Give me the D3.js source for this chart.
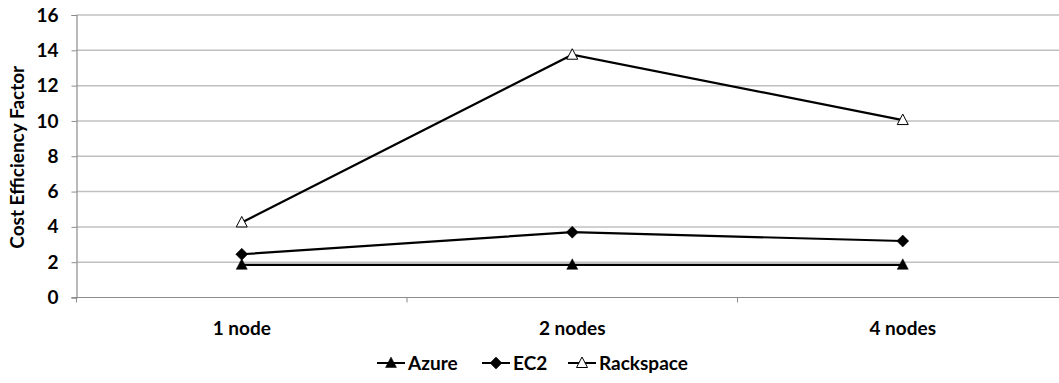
<!DOCTYPE html>
<html><head><meta charset="utf-8">
<script src="https://cdn.jsdelivr.net/npm/d3@7"></script>
<style>body{margin:0;background:#fff}svg{display:block}text{font-family:Lato,"Liberation Sans",Arial,sans-serif;font-weight:bold;fill:#000}</style>
</head><body><svg id="c" width="1059" height="383"></svg>
<script>
const categories = ["1 node", "2 nodes", "4 nodes"];
const azure = [1.85, 1.85, 1.85];
const ec2 = [2.45, 3.7, 3.2];
const rackspace = [4.25, 13.75, 10.05];
const yTicks = [0, 2, 4, 6, 8, 10, 12, 14, 16];
const seriesNames = ["Azure", "EC2", "Rackspace"];

const series = [
  {name: seriesNames[0], values: azure, shape: "tri", fill: "#000"},
  {name: seriesNames[1], values: ec2, shape: "diamond", fill: "#000"},
  {name: seriesNames[2], values: rackspace, shape: "tri", fill: "#fff"}
];

const FONT = "Lato";
const FS = 19;
const svg = d3.select("#c");
const pLeft = 76.5, pRight = 1068, pTop = 15, pBottom = 297.5;
const x = d3.scaleBand().domain(categories).range([pLeft, pRight]);
const y = d3.scaleLinear().domain([0, 16]).range([pBottom, pTop]);

// gridlines
svg.append("g").selectAll("line").data(yTicks.filter(d => d > 0)).join("line")
  .attr("x1", pLeft).attr("x2", pRight)
  .attr("y1", d => y(d)).attr("y2", d => y(d))
  .attr("stroke", "#c0c0c0").attr("stroke-width", 1.5);

// y axis
const ya = svg.append("g").attr("transform", `translate(${pLeft},0)`)
  .call(d3.axisLeft(y).tickValues(yTicks).tickSize(5).tickPadding(13));
ya.select(".domain").attr("stroke", "#8c8c8c").attr("stroke-width", 1.2);
ya.selectAll(".tick line").attr("stroke", "#8c8c8c");
ya.selectAll(".tick text").attr("font-size", FS).attr("font-family", FONT).attr("font-weight", "bold").attr("fill", "#000");

// x axis
const xa = svg.append("g").attr("transform", `translate(0,${pBottom})`);
xa.append("line").attr("x1", pLeft - 5).attr("x2", pRight).attr("stroke", "#8c8c8c").attr("stroke-width", 1.2);
const bounds = categories.map(c => x(c)).concat([pRight]);
xa.selectAll("line.tk").data(bounds).join("line").attr("class", "tk")
  .attr("x1", d => d).attr("x2", d => d).attr("y1", 0).attr("y2", 5)
  .attr("stroke", "#8c8c8c");
xa.selectAll("text").data(categories).join("text")
  .attr("x", d => x(d) + x.bandwidth() / 2).attr("y", 37)
  .attr("text-anchor", "middle").attr("font-size", FS).text(d => d);

// y title
svg.append("text").attr("transform", `translate(24,${(pTop + pBottom) / 2 + 1}) rotate(-90)`)
  .attr("text-anchor", "middle").attr("font-size", FS).text("Cost Efficiency Factor");

const cx = d => x(d) + x.bandwidth() / 2;
const line = d3.line().x(d => cx(d.c)).y(d => y(d.v));
const triPath = "M0,-6L5.5,4.5L-5.5,4.5Z";
const diaPath = "M0,-6L6,0L0,6L-6,0Z";

function marker(sel, s) {
  sel.attr("d", s.shape === "tri" ? triPath : diaPath)
    .attr("fill", s.fill).attr("stroke", "#000").attr("stroke-width", s.fill === "#fff" ? 1 : 0.5);
}

series.forEach(s => {
  const pts = categories.map((c, i) => ({c, v: s.values[i]}));
  svg.append("path").datum(pts).attr("d", line).attr("fill", "none")
    .attr("stroke", "#000").attr("stroke-width", 2.2);
  svg.append("g").selectAll("path").data(pts).join("path")
    .attr("transform", d => `translate(${cx(d.c)},${y(d.v)})`)
    .call(sel => marker(sel, s));
});

// legend
const legX = [377, 482, 568];
const lg = svg.append("g");
series.forEach((s, i) => {
  const g = lg.append("g").attr("transform", `translate(${legX[i]},363)`);
  g.append("line").attr("x1", 0).attr("x2", 28).attr("stroke", "#000").attr("stroke-width", 2);
  g.append("path").attr("transform", "translate(14,0)").call(sel => marker(sel, s));
  g.append("text").attr("x", 31).attr("y", 6.5).attr("font-size", FS).text(s.name);
});
</script></body></html>
